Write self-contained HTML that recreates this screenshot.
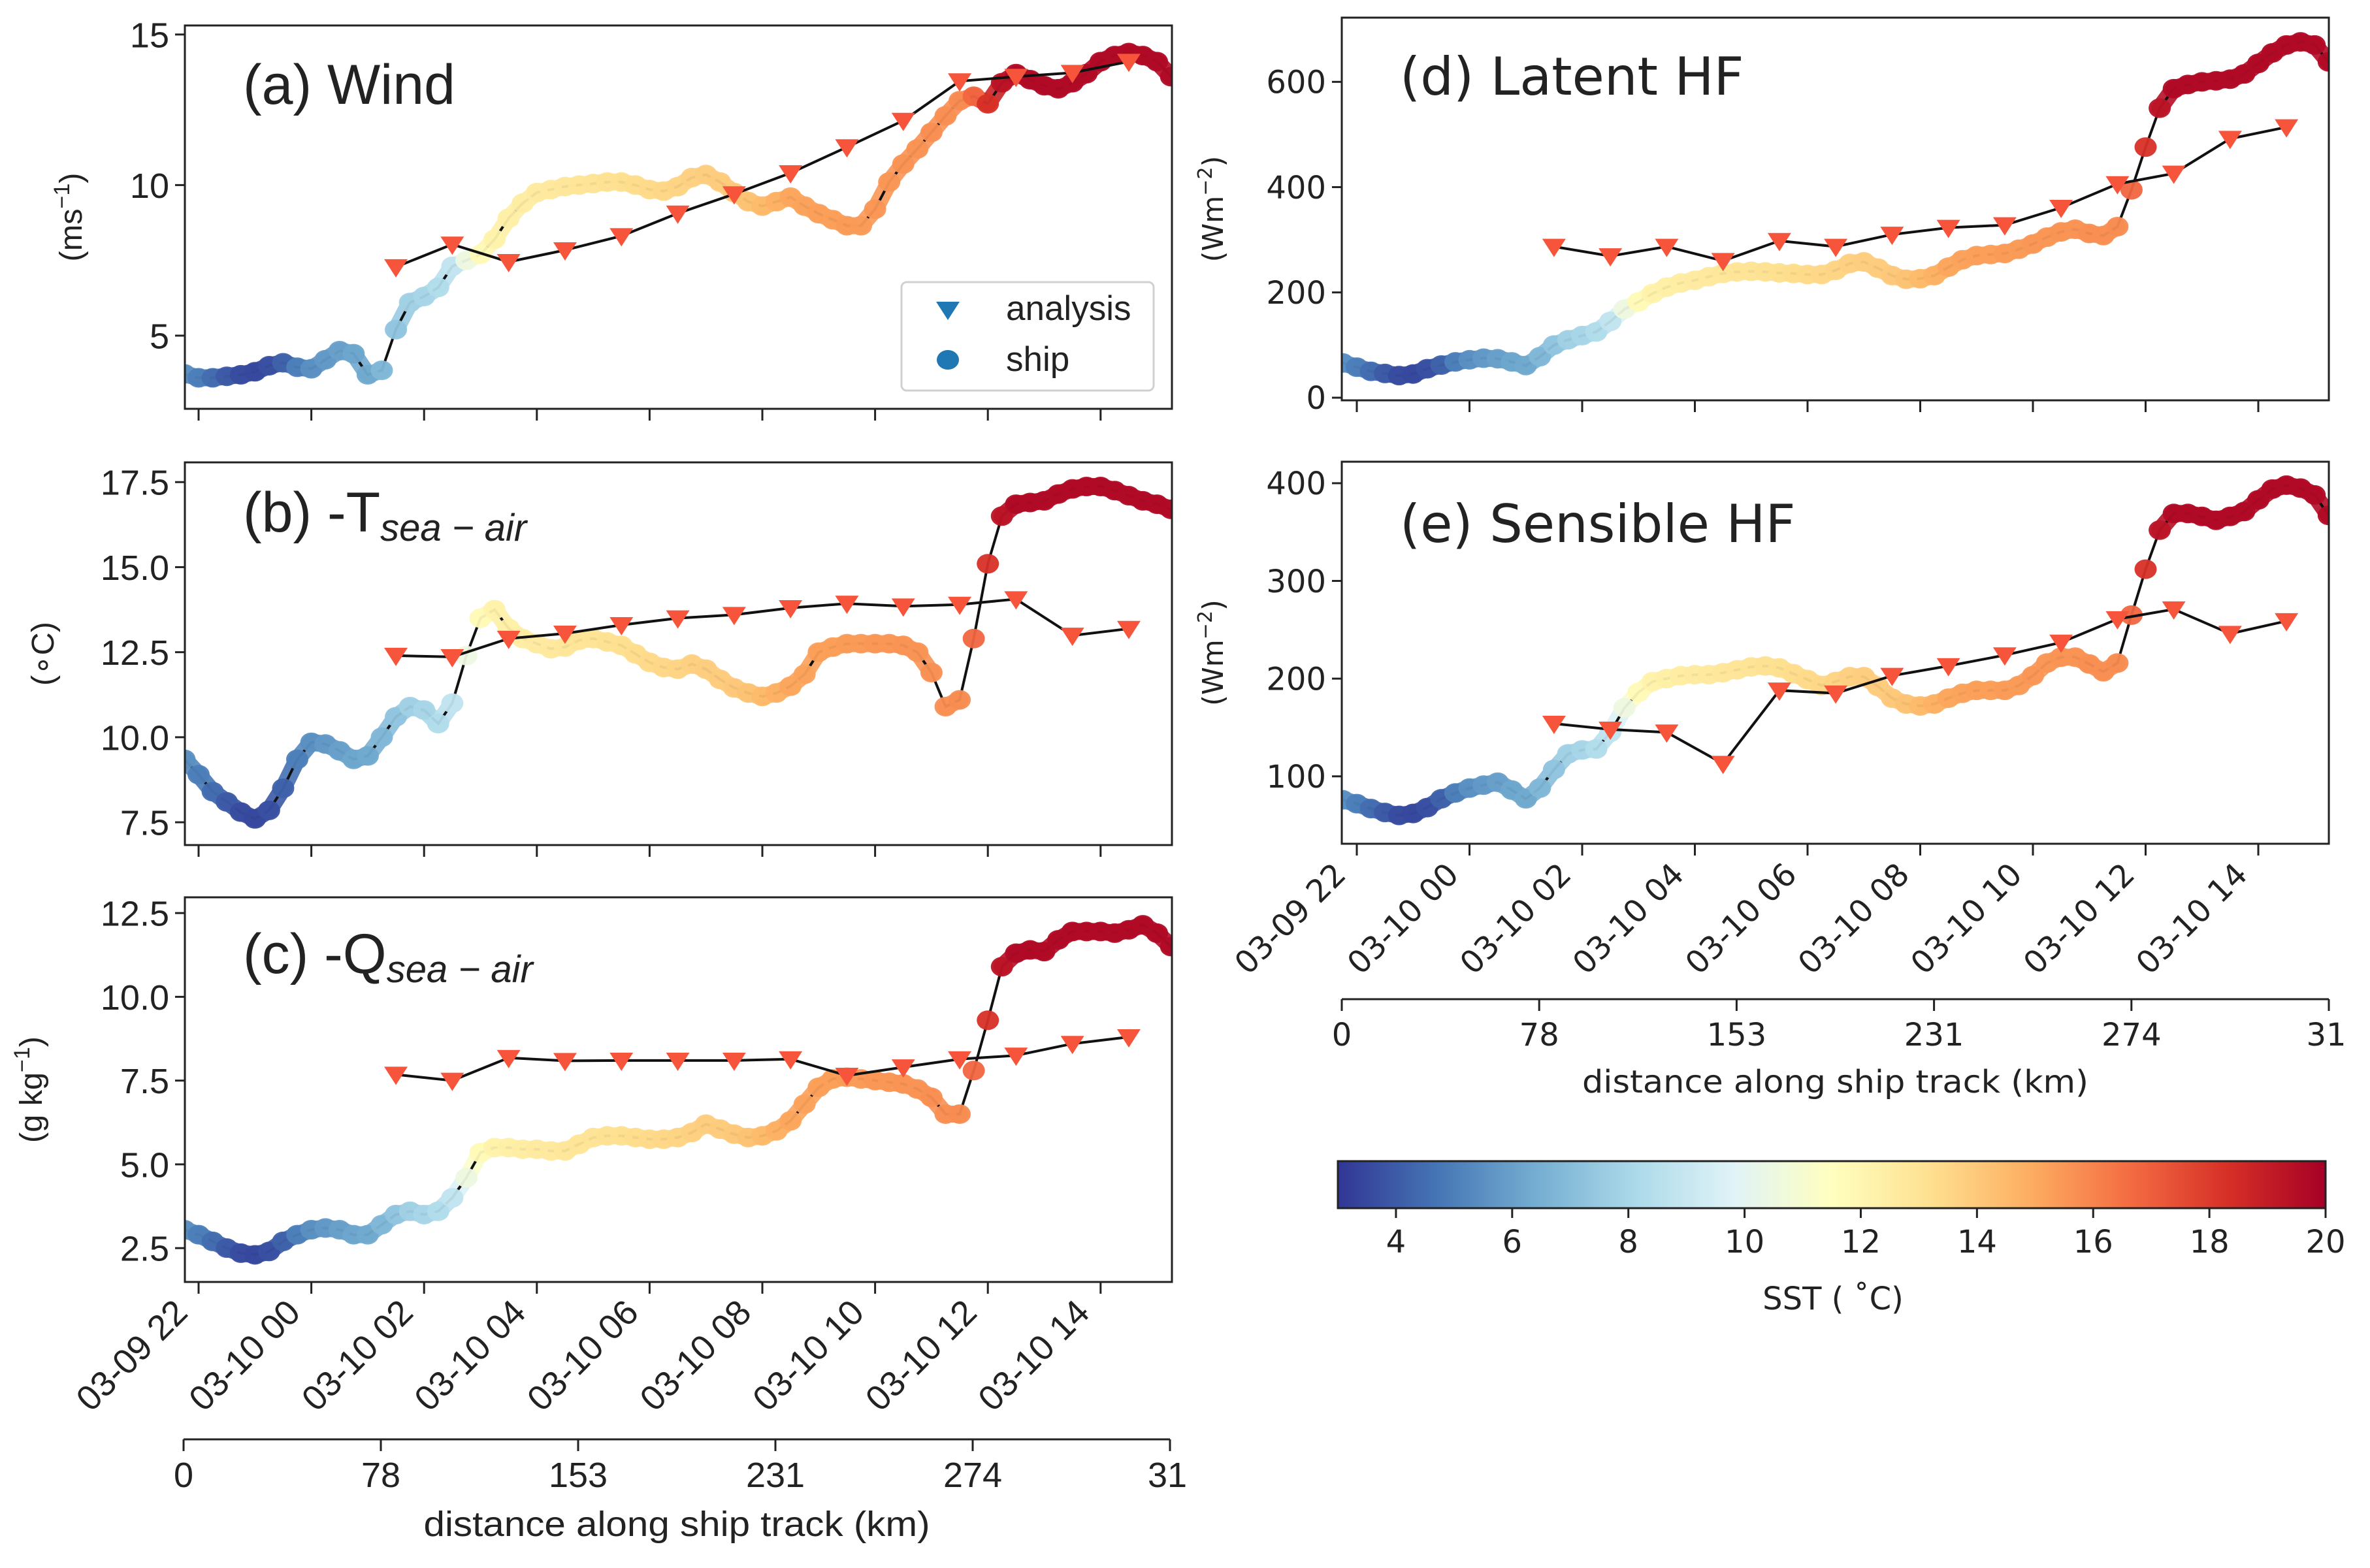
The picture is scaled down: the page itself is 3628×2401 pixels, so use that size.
<!DOCTYPE html>
<html><head><meta charset="utf-8"><style>
html,body{margin:0;padding:0;background:#fff;}
svg{display:block;}
</style></head><body>
<svg id="fig" xmlns="http://www.w3.org/2000/svg" width="3628" height="2401" viewBox="0 0 3628 2401">
<rect x="0" y="0" width="3628" height="2401" fill="#fff"/>
<defs>
<linearGradient id="cmapGrad" x1="0" x2="1" y1="0" y2="0">
<stop offset="0" stop-color="#313695"/><stop offset="0.1" stop-color="#4575b4"/><stop offset="0.2" stop-color="#74add1"/><stop offset="0.3" stop-color="#abd9e9"/><stop offset="0.4" stop-color="#e0f3f8"/><stop offset="0.5" stop-color="#ffffbf"/><stop offset="0.6" stop-color="#fee090"/><stop offset="0.7" stop-color="#fdae61"/><stop offset="0.8" stop-color="#f46d43"/><stop offset="0.9" stop-color="#d73027"/><stop offset="1" stop-color="#a50026"/>
</linearGradient>
</defs>
</svg>
<script>
// ---- data ----
const sst = [5.5,5.0,4.5,4.0,3.6,3.5,3.7,4.2,5.0,5.5,
5.8,6.0,6.2,6.3,6.8,7.3,7.8,8.0,8.3,8.8,
10.5,11.8,12.2,12.4,12.5,12.6,12.7,12.8,12.9,13.0,
13.1,13.2,13.3,13.4,13.5,13.6,13.7,13.8,13.9,14.0,
14.2,14.5,14.8,15.1,15.2,15.3,15.3,15.4,15.4,15.5,
15.5,15.6,15.6,15.7,15.7,15.8,16.8,18.3,19.3,19.6,
19.6,19.6,19.6,19.6,19.6,19.6,19.6,19.6,19.6,19.6,
19.6];
const windShip = [3.73,3.6,3.6,3.65,3.7,3.8,4.0,4.1,3.95,3.9,
4.2,4.5,4.4,3.7,3.85,5.2,6.1,6.3,6.6,7.3,
7.5,7.7,8.2,8.9,9.4,9.75,9.85,9.95,10.0,10.05,
10.1,10.1,10.0,9.85,9.8,9.95,10.25,10.35,10.1,9.75,
9.45,9.3,9.45,9.6,9.3,9.05,8.85,8.65,8.65,9.2,
10.1,10.7,11.2,11.75,12.3,12.8,12.95,12.7,13.4,13.7,
13.5,13.3,13.2,13.4,13.7,14.1,14.3,14.4,14.3,14.1,
13.6];
const tseaShip = [9.35,8.9,8.4,8.1,7.8,7.6,7.85,8.5,9.35,9.85,
9.8,9.6,9.35,9.45,10.0,10.6,10.9,10.8,10.4,11.0,
12.4,13.5,13.75,13.2,12.9,12.75,12.6,12.65,12.85,12.9,
12.8,12.7,12.45,12.2,12.05,12.0,12.15,12.0,11.7,11.45,
11.3,11.2,11.3,11.5,11.85,12.5,12.65,12.75,12.75,12.75,
12.75,12.7,12.5,11.9,10.9,11.1,12.9,15.1,16.5,16.85,
16.9,16.95,17.15,17.3,17.37,17.37,17.25,17.1,16.95,16.85,
16.7];
const qShip = [3.05,2.9,2.7,2.5,2.35,2.3,2.4,2.7,2.9,3.05,
3.1,3.05,2.9,2.9,3.2,3.5,3.6,3.5,3.6,4.0,
4.6,5.35,5.5,5.5,5.45,5.45,5.4,5.4,5.6,5.8,
5.85,5.85,5.8,5.75,5.75,5.8,5.95,6.2,6.05,5.9,
5.8,5.85,6.0,6.3,6.8,7.3,7.55,7.6,7.55,7.5,
7.45,7.4,7.25,7.0,6.5,6.5,7.8,9.3,10.9,11.3,
11.4,11.35,11.7,11.95,11.95,11.95,11.9,12.0,12.15,11.9,
11.5];
const latentShip = [66,58,50,46,42,45,55,62,68,72,
75,74,68,61,78,100,110,118,125,145,
168,182,198,210,218,223,230,236,239,240,
239,237,236,234,234,242,255,258,246,232,
225,226,232,248,262,270,272,274,282,292,
305,315,320,312,308,325,395,476,550,587,
595,600,602,605,615,635,655,670,676,670,
638];
const sensibleShip = [76,72,67,63,60,62,68,77,83,88,
91,94,86,77,88,107,123,127,128,145,
170,186,197,200,203,204,204,206,209,212,
213,211,205,199,193,197,202,202,192,180,
174,172,174,180,185,188,188,188,193,203,
216,222,222,215,207,216,265,312,352,369,
369,366,362,366,371,383,394,398,395,388,
367];
const shipStartHour = -0.25;
const shipStepHour = 0.25;
const anaHours = [3.5,4.5,5.5,6.5,7.5,8.5,9.5,10.5,11.5,12.5,13.5,14.5,15.5,16.5];
const windAna = [7.28,8.03,7.45,7.84,8.31,9.06,9.7,10.4,11.26,12.14,13.45,13.6,13.73,14.1];
const tseaAna = [12.4,12.36,12.9,13.05,13.3,13.5,13.6,13.8,13.93,13.85,13.9,14.06,12.99,13.19];
const qAna = [7.68,7.5,8.18,8.09,8.1,8.1,8.1,8.14,7.65,7.9,8.14,8.25,8.6,8.8];
const latentAna = [287,269,287,260,298,287,310,323,328,361,406,426,492,514];
const sensibleAna = [154,148,145,113,188,185,203,213,224,237,261,271,246,259];
const timeTickHours = [0,2,4,6,8,10,12,14,16];
const timeTickLabels = ["03-09 22","03-10 00","03-10 02","03-10 04","03-10 06","03-10 08","03-10 10","03-10 12","03-10 14"];
const distTickLabels = ["0","78","153","231","274","31"];
const cbarTicks = [4,6,8,10,12,14,16,18,20];

const NS = "http://www.w3.org/2000/svg";
const svg = document.getElementById('fig');
function mk(tag, attrs, parent){
  const e = document.createElementNS(NS, tag);
  for (const k in attrs) e.setAttribute(k, attrs[k]);
  (parent||svg).appendChild(e);
  return e;
}
const stops = ['#313695','#4575b4','#74add1','#abd9e9','#e0f3f8','#ffffbf','#fee090','#fdae61','#f46d43','#d73027','#a50026'];
function hex(c){return [parseInt(c.slice(1,3),16),parseInt(c.slice(3,5),16),parseInt(c.slice(5,7),16)];}
function cmap(v){
  let f = (v-3)/17; f = Math.max(0,Math.min(1,f));
  const p = f*10, i = Math.min(9, Math.floor(p)), r = p-i;
  const a = hex(stops[i]), b = hex(stops[i+1]);
  return 'rgb(' + a.map((x,j)=>Math.round(x+(b[j]-x)*r)).join(',') + ')';
}
const shipHours = sst.map((_, i) => shipStartHour + i*shipStepHour);

function panel(cfg){
  const g = mk('g', {});
  
  
  const xs = h => cfg.tick0 + h*cfg.pxh;
  const ys = v => cfg.B - (v-cfg.ymin)/(cfg.ymax-cfg.ymin)*(cfg.B-cfg.T);
  const cid = 'clip-' + cfg.name;
  const cp = mk('clipPath', {id: cid}, g);
  mk('rect', {x: cfg.L, y: cfg.T, width: cfg.R-cfg.L, height: cfg.B-cfg.T}, cp);
  const plot = mk('g', {'clip-path': 'url(#' + cid + ')'}, g);
  // colored band segments between ship points (fills gaps)
  for (let i = 0; i < cfg.ship.length-1; i++){
    const dy = Math.abs(ys(cfg.ship[i+1]) - ys(cfg.ship[i]));
    if (dy > 45) continue;
    const s = mk('line', {x1: xs(shipHours[i]), y1: ys(cfg.ship[i]), x2: xs(shipHours[i+1]), y2: ys(cfg.ship[i+1]), stroke: cmap((sst[i]+sst[i+1])/2), 'stroke-width': 26, 'stroke-linecap':'round', 'stroke-opacity':0.9}, plot);
    
    
  }
  const sl = mk('polyline', {points: cfg.ship.map((v,i)=>xs(shipHours[i]).toFixed(1)+','+ys(v).toFixed(1)).join(' '), fill:'none', stroke:'#111', 'stroke-width':4}, plot);
  
  
  cfg.ship.forEach((v,i)=>{
    const c = mk('ellipse', {cx: xs(shipHours[i]), cy: ys(v), rx: 17, ry: 15, fill: cmap(sst[i]), 'fill-opacity': 0.95}, plot);
    
    
  });
  const al = mk('polyline', {points: cfg.ana.map((v,i)=>xs(anaHours[i]).toFixed(1)+','+ys(v).toFixed(1)).join(' '), fill:'none', stroke:'#111', 'stroke-width':4}, plot);
  
  
  cfg.ana.forEach((v,i)=>{
    const x = xs(anaHours[i]), y = ys(v);
    const t = mk('polygon', {points: (x-18)+','+(y-12)+' '+(x+18)+','+(y-12)+' '+x+','+(y+16), fill:'#f6553c'}, plot);
    
    
  });
  const fr = mk('rect', {x: cfg.L, y: cfg.T, width: cfg.R-cfg.L, height: cfg.B-cfg.T, fill:'none', stroke:'#222', 'stroke-width':3}, g);
  
  
  cfg.yticks.forEach((v)=>{
    const y = ys(v);
    mk('line', {x1: cfg.L-15, x2: cfg.L, y1: y, y2: y, stroke:'#222', 'stroke-width':3}, g);
    const t = mk('text', {x: cfg.L-24, y: y + cfg.fs*0.36, 'text-anchor':'end', 'font-size': cfg.fs, 'font-family': cfg.font, fill:'#222'}, g);
    t.textContent = cfg.yfmt(v);
    
    
  });
  timeTickHours.forEach((h,i)=>{
    const x = xs(h);
    mk('line', {x1: x, x2: x, y1: cfg.B, y2: cfg.B+18, stroke:'#222', 'stroke-width':3}, g);
    if (cfg.dates){
      const tx = x - 14, ty = cfg.B + 50;
      const t = mk('text', {x: tx, y: ty, 'text-anchor':'end', 'font-size': cfg.fs, 'font-family': cfg.font, fill:'#222', transform:'rotate(-45 '+tx+' '+ty+')'}, g);
      t.textContent = timeTickLabels[i];
      
      
    }
  });
  const yl = mk('text', {x: cfg.ylx, y: (cfg.T+cfg.B)/2, 'text-anchor':'middle', 'font-size': cfg.fs*0.9, 'font-family': cfg.font, fill:'#222', transform:'rotate(-90 '+cfg.ylx+' '+((cfg.T+cfg.B)/2)+')'}, g);
  yl.innerHTML = cfg.ylabel;
  
  
  const tt = mk('text', {x: cfg.L + 89, y: cfg.T + cfg.titleDy, 'font-size': cfg.tfs, 'font-family': cfg.font, fill:'#222'}, g);
  tt.innerHTML = cfg.title;
  
  
  return {xs, ys, g};
}
const LF = '"Liberation Sans", sans-serif';
const DF = '"DejaVu Sans", sans-serif';
const f1 = v => v.toFixed(1);
const f0 = v => String(v);
panel({name:'panel-a-wind', L:283,R:1794,T:39,B:626, ymin:2.57, ymax:15.3, tick0:304, pxh:86.3, yticks:[5,10,15], yfmt:f0, fs:54, tfs:86, font:LF, ship:windShip, ana:windAna, ylx:125, ylabel:'(ms<tspan baseline-shift="super" font-size="34">−1</tspan>)', title:'(a) Wind', titleDy:120, dates:false});
panel({name:'panel-b-tsea-air', L:283,R:1794,T:708,B:1294, ymin:6.83, ymax:18.08, tick0:304, pxh:86.3, yticks:[7.5,10,12.5,15,17.5], yfmt:f1, fs:54, tfs:86, font:LF, ship:tseaShip, ana:tseaAna, ylx:82, ylabel:'(∘C)', title:'(b) -T<tspan font-style="italic" font-size="58" dy="14">sea − air</tspan>', titleDy:106, dates:false});
panel({name:'panel-c-qsea-air', L:283,R:1794,T:1374,B:1963, ymin:1.49, ymax:12.97, tick0:304, pxh:86.3, yticks:[2.5,5,7.5,10,12.5], yfmt:f1, fs:54, tfs:86, font:LF, ship:qShip, ana:qAna, ylx:64, ylabel:'(g kg<tspan baseline-shift="super" font-size="34">−1</tspan>)', title:'(c) -Q<tspan font-style="italic" font-size="58" dy="14">sea − air</tspan>', titleDy:116, dates:true});
panel({name:'panel-d-latent-hf', L:2054,R:3565,T:27,B:613, ymin:-5, ymax:722, tick0:2077, pxh:86.25, yticks:[0,200,400,600], yfmt:f0, fs:48, tfs:80, font:DF, ship:latentShip, ana:latentAna, ylx:1872, ylabel:'(Wm<tspan baseline-shift="super" font-size="30">−2</tspan>)', title:'(d) Latent HF', titleDy:118, dates:false});
panel({name:'panel-e-sensible-hf', L:2054,R:3565,T:707,B:1292, ymin:31, ymax:422, tick0:2077, pxh:86.25, yticks:[100,200,300,400], yfmt:f0, fs:48, tfs:80, font:DF, ship:sensibleShip, ana:sensibleAna, ylx:1872, ylabel:'(Wm<tspan baseline-shift="super" font-size="30">−2</tspan>)', title:'(e) Sensible HF', titleDy:123, dates:true});

function distAxis(name, x0, x1, y, fs, font, labelY, titleY){
  const g = mk('g', {});
  
  
  mk('line', {x1:x0, x2:x1, y1:y, y2:y, stroke:'#222', 'stroke-width':3}, g);
  distTickLabels.forEach((lab,i)=>{
    const x = x0 + (x1-x0)*i/(distTickLabels.length-1);
    mk('line', {x1:x, x2:x, y1:y, y2:y+18, stroke:'#222', 'stroke-width':3}, g);
    const t = mk('text', {x: i===distTickLabels.length-1 ? x-4 : x, y: labelY, 'text-anchor':'middle', 'font-size':fs, 'font-family':font, fill:'#222'}, g);
    t.textContent = lab;
    
    
  });
  const t = mk('text', {x:(x0+x1)/2, y:titleY, 'text-anchor':'middle', 'font-size':fs, 'font-family':font, fill:'#222', textLength:775, lengthAdjust:'spacingAndGlyphs'}, g);
  t.textContent = 'distance along ship track (km)';
  
  
}
distAxis('distance-axis-left', 281, 1791, 2204, 54, LF, 2277, 2352);
distAxis('distance-axis-right', 2054, 3565, 1530, 48, DF, 1601, 1673);

const lg = mk('g', {});


mk('rect', {x:1380, y:432, width:386, height:166, rx:8, fill:'#fff', 'fill-opacity':0.9, stroke:'#d0d0d0', 'stroke-width':3}, lg);
mk('polygon', {points:'1433,462 1469,462 1451,490', fill:'#1f77b4'}, lg);
mk('ellipse', {cx:1451, cy:551, rx:17, ry:15, fill:'#1f77b4'}, lg);
const la = mk('text', {x:1540, y:490, 'font-size':53, 'font-family':LF, fill:'#222'}, lg);
la.textContent = 'analysis';


const ls = mk('text', {x:1540, y:568, 'font-size':53, 'font-family':LF, fill:'#222'}, lg);
ls.textContent = 'ship';



const cb = mk('g', {});


const cbX0 = 2048, cbX1 = 3560, cbY0 = 1778, cbY1 = 1850;
mk('rect', {x:cbX0, y:cbY0, width:cbX1-cbX0, height:cbY1-cbY0, fill:'url(#cmapGrad)', stroke:'#222', 'stroke-width':3}, cb);
cbarTicks.forEach(v=>{
  const x = cbX0 + (v-3)/17*(cbX1-cbX0);
  mk('line', {x1:x, x2:x, y1:cbY1, y2:cbY1+15, stroke:'#222', 'stroke-width':3}, cb);
  const t = mk('text', {x:x, y:1918, 'text-anchor':'middle', 'font-size':48, 'font-family':DF, fill:'#222'}, cb);
  t.textContent = String(v);
  
  
});
const cbl = mk('text', {x:2806, y:2005, 'text-anchor':'middle', 'font-size':48, 'font-family':DF, fill:'#222'}, cb);
cbl.textContent = 'SST ( ˚C)';


</script>
</body></html>
